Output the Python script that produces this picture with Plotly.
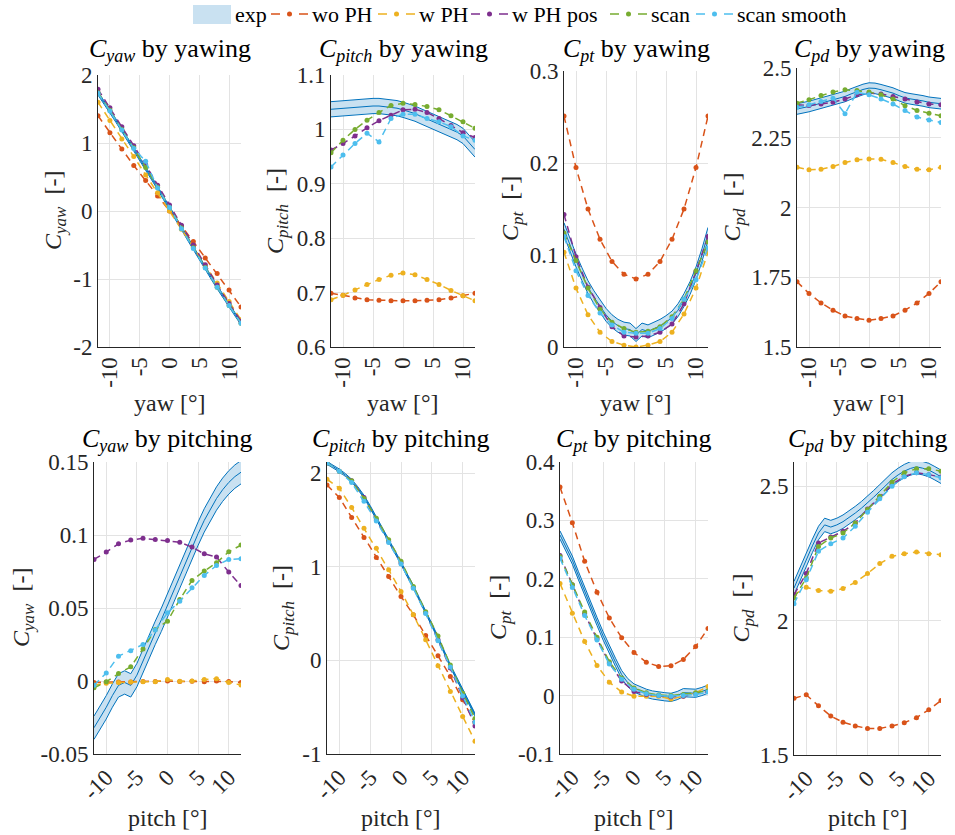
import plotly.graph_objects as go

# ---------------- data ----------------
x_model = [-12, -10, -8, -6, -4, -2, 0, 2, 4, 6, 8, 10, 12]
x_exp = [-12, -11, -10, -9, -8, -7, -6, -5, -4, -3, -2, -1, 0, 1, 2, 3, 4, 5, 6, 7, 8, 9, 10, 11, 12]

series_names = ["wo PH", "w PH", "w PH pos", "scan", "scan smooth"]
series_colors = ["#D95319", "#EDB120", "#7E2F8E", "#77AC30", "#4DBEEE"]

# Panel 1: C_yaw by yawing
cyaw_yaw_exp = [1.73, 1.60, 1.47, 1.33, 1.19, 1.05, 0.92, 0.78, 0.64, 0.49, 0.34, 0.19, 0.05,
                -0.10, -0.25, -0.40, -0.55, -0.69, -0.84, -0.98, -1.12, -1.26, -1.39, -1.52, -1.65]
cyaw_yaw_wo_ph = [1.40, 1.15, 0.91, 0.67, 0.45, 0.22, 0.0, -0.22, -0.45, -0.69, -0.92, -1.16, -1.41]
cyaw_yaw_w_ph = [1.60, 1.33, 1.06, 0.80, 0.53, 0.27, 0.0, -0.27, -0.53, -0.80, -1.06, -1.33, -1.60]
cyaw_yaw_w_ph_pos = [1.79, 1.52, 1.24, 0.96, 0.68, 0.38, 0.09, -0.21, -0.50, -0.79, -1.09, -1.36, -1.62]
cyaw_yaw_scan = [1.74, 1.48, 1.20, 0.93, 0.64, 0.35, 0.05, -0.25, -0.54, -0.83, -1.12, -1.39, -1.65]
cyaw_yaw_scan_smooth = [1.73, 1.47, 1.19, 0.92, 0.73, 0.34, 0.05, -0.26, -0.55, -0.84, -1.12, -1.39, -1.65]

# Panel 2: C_pitch by yawing
cpitch_yaw_exp = [1.037, 1.038, 1.039, 1.040, 1.041, 1.042, 1.043, 1.043, 1.043, 1.042, 1.041, 1.039, 1.036,
                  1.033, 1.029, 1.024, 1.019, 1.014, 1.009, 1.004, 1.000, 0.995, 0.988, 0.976, 0.963]
cpitch_yaw_wo_ph = [0.699, 0.695, 0.690, 0.687, 0.686, 0.685, 0.685, 0.685, 0.686, 0.687, 0.690, 0.694, 0.699]
cpitch_yaw_w_ph = [0.687, 0.695, 0.705, 0.715, 0.724, 0.732, 0.736, 0.733, 0.724, 0.715, 0.704, 0.694, 0.685]
cpitch_yaw_w_ph_pos = [0.962, 0.974, 0.988, 1.003, 1.016, 1.026, 1.036, 1.037, 1.031, 1.020, 1.007, 0.994, 0.985]
cpitch_yaw_scan = [0.957, 0.980, 1.000, 1.017, 1.031, 1.044, 1.048, 1.046, 1.042, 1.036, 1.025, 1.014, 1.002]
cpitch_yaw_scan_smooth = [0.931, 0.953, 0.974, 0.993, 0.977, 1.020, 1.028, 1.028, 1.020, 1.014, 1.005, 0.988, 0.980]

# Panel 3: C_pt by yawing
cpt_yaw_exp = [0.128, 0.110, 0.094, 0.079, 0.065, 0.054, 0.044, 0.035, 0.028, 0.023, 0.020, 0.019, 0.013,
               0.019, 0.017, 0.020, 0.023, 0.027, 0.032, 0.040, 0.051, 0.064, 0.080, 0.100, 0.123]
cpt_yaw_wo_ph = [0.251, 0.195, 0.150, 0.117, 0.093, 0.079, 0.074, 0.079, 0.093, 0.117, 0.150, 0.195, 0.251]
cpt_yaw_w_ph = [0.103, 0.064, 0.035, 0.016, 0.006, 0.002, 0.000, 0.002, 0.006, 0.016, 0.036, 0.064, 0.103]
cpt_yaw_w_ph_pos = [0.144, 0.098, 0.065, 0.043, 0.022, 0.012, 0.011, 0.012, 0.016, 0.025, 0.047, 0.082, 0.120]
cpt_yaw_scan = [0.124, 0.094, 0.064, 0.041, 0.027, 0.020, 0.016, 0.017, 0.022, 0.033, 0.052, 0.083, 0.114]
cpt_yaw_scan_smooth = [0.120, 0.083, 0.056, 0.037, 0.024, 0.016, 0.015, 0.015, 0.020, 0.031, 0.052, 0.073, 0.108]

# Panel 4: C_pd by yawing
cpd_yaw_exp = [2.353, 2.357, 2.362, 2.368, 2.374, 2.380, 2.386, 2.392, 2.398, 2.407, 2.416, 2.423, 2.428,
               2.427, 2.422, 2.416, 2.410, 2.401, 2.393, 2.389, 2.386, 2.382, 2.377, 2.375, 2.372]
cpd_yaw_wo_ph = [1.734, 1.692, 1.658, 1.632, 1.611, 1.602, 1.596, 1.602, 1.611, 1.632, 1.658, 1.692, 1.734]
cpd_yaw_w_ph = [2.144, 2.135, 2.137, 2.147, 2.161, 2.171, 2.174, 2.173, 2.161, 2.147, 2.137, 2.135, 2.144]
cpd_yaw_w_ph_pos = [2.368, 2.366, 2.371, 2.377, 2.389, 2.404, 2.410, 2.407, 2.398, 2.389, 2.378, 2.371, 2.368]
cpd_yaw_scan = [2.374, 2.386, 2.401, 2.414, 2.422, 2.419, 2.414, 2.404, 2.389, 2.365, 2.348, 2.338, 2.329]
cpd_yaw_scan_smooth = [2.359, 2.368, 2.380, 2.392, 2.336, 2.413, 2.404, 2.389, 2.371, 2.348, 2.324, 2.314, 2.305]

# Panel 5: C_yaw by pitching
cyaw_pitch_exp = [-0.032, -0.025, -0.018, -0.010, -0.003, -0.001, -0.003, 0.004, 0.014, 0.023, 0.033, 0.042, 0.052,
                  0.062, 0.072, 0.082, 0.092, 0.101, 0.110, 0.118, 0.125, 0.131, 0.136, 0.140, 0.143]
cyaw_pitch_wo_ph = [-0.0010, -0.0008, -0.0006, -0.0006, -0.0004, -0.0003, 0.0, -0.0003, -0.0002, -0.0005, 0.0, -0.0004, -0.0010]
cyaw_pitch_w_ph = [-0.0027, -0.0016, -0.0011, -0.0007, -0.0005, -0.0005, 0.0010, -0.0002, 0.0, 0.0011, 0.0016, -0.0011, -0.0027]
cyaw_pitch_w_ph_pos = [0.0833, 0.0883, 0.0940, 0.0965, 0.0977, 0.0970, 0.0963, 0.0951, 0.0917, 0.0871, 0.0849, 0.0746, 0.0654]
cyaw_pitch_scan = [-0.0047, -0.0005, 0.0051, 0.0097, 0.0220, 0.0353, 0.0410, 0.0558, 0.0689, 0.0753, 0.0810, 0.0885, 0.0931]
cyaw_pitch_scan_smooth = [-0.0029, 0.0055, 0.0170, 0.0208, 0.0250, 0.0350, 0.0467, 0.0547, 0.0638, 0.0723, 0.0791, 0.0833, 0.0837]

# Panel 6: C_pitch by pitching
cpitch_pitch_exp = [2.11, 2.07, 2.03, 1.98, 1.92, 1.84, 1.75, 1.64, 1.52, 1.40, 1.29, 1.16, 1.04,
                    0.91, 0.79, 0.65, 0.52, 0.38, 0.24, 0.09, -0.06, -0.19, -0.32, -0.45, -0.58]
cpitch_pitch_wo_ph = [1.875, 1.740, 1.527, 1.313, 1.100, 0.897, 0.683, 0.488, 0.267, 0.050, -0.171, -0.420, -0.669]
cpitch_pitch_w_ph = [1.936, 1.840, 1.633, 1.413, 1.199, 0.968, 0.737, 0.488, 0.221, -0.057, -0.331, -0.598, -0.865]
cpitch_pitch_w_ph_pos = [2.11, 2.02, 1.92, 1.74, 1.50, 1.27, 1.04, 0.78, 0.51, 0.22, -0.08, -0.40, -0.70]
cpitch_pitch_scan = [2.11, 2.02, 1.92, 1.73, 1.52, 1.29, 1.06, 0.79, 0.52, 0.26, -0.05, -0.35, -0.62]
cpitch_pitch_scan_smooth = [2.11, 2.02, 1.90, 1.70, 1.49, 1.26, 1.03, 0.77, 0.50, 0.21, -0.07, -0.38, -0.66]

# Panel 7: C_pt by pitching
cpt_pitch_exp = [0.275, 0.254, 0.232, 0.205, 0.178, 0.152, 0.127, 0.102, 0.078, 0.057, 0.036, 0.022, 0.013,
                 0.008, 0.004, 0.001, -0.001, -0.002, -0.003, 0.000, 0.005, 0.005, 0.004, 0.007, 0.011]
cpt_pitch_wo_ph = [0.357, 0.296, 0.230, 0.177, 0.133, 0.099, 0.074, 0.057, 0.050, 0.051, 0.062, 0.084, 0.115]
cpt_pitch_w_ph = [0.192, 0.141, 0.0925, 0.0515, 0.023, 0.006, -0.001, -0.001, -0.001, -0.006, -0.001, 0.0045, 0.0156]
cpt_pitch_w_ph_pos = [0.240, 0.190, 0.140, 0.097, 0.056, 0.025, 0.007, 0.002, 0.000, -0.002, -0.001, 0.003, 0.007]
cpt_pitch_scan = [0.238, 0.190, 0.143, 0.100, 0.058, 0.030, 0.013, 0.005, 0.001, 0.000, 0.002, 0.005, 0.008]
cpt_pitch_scan_smooth = [0.235, 0.185, 0.137, 0.095, 0.054, 0.028, 0.011, 0.003, 0.000, -0.001, 0.000, 0.002, 0.006]

# Panel 8: C_pd by pitching
cpd_pitch_exp = [2.121, 2.175, 2.227, 2.278, 2.326, 2.356, 2.348, 2.356, 2.368, 2.383, 2.400, 2.418, 2.437,
                 2.459, 2.481, 2.503, 2.525, 2.542, 2.556, 2.566, 2.572, 2.567, 2.560, 2.548, 2.535]
cpd_pitch_wo_ph = [1.711, 1.724, 1.683, 1.645, 1.622, 1.608, 1.599, 1.599, 1.608, 1.620, 1.639, 1.668, 1.703]
cpd_pitch_w_ph = [2.096, 2.124, 2.112, 2.109, 2.119, 2.142, 2.175, 2.212, 2.239, 2.249, 2.255, 2.249, 2.245]
cpd_pitch_w_ph_pos = [2.096, 2.175, 2.289, 2.311, 2.332, 2.363, 2.415, 2.460, 2.506, 2.537, 2.550, 2.543, 2.534]
cpd_pitch_scan = [2.084, 2.158, 2.276, 2.307, 2.326, 2.363, 2.413, 2.463, 2.515, 2.550, 2.565, 2.565, 2.556]
cpd_pitch_scan_smooth = [2.063, 2.152, 2.258, 2.286, 2.307, 2.351, 2.403, 2.453, 2.500, 2.535, 2.550, 2.543, 2.531]

# experimental band half-widths per panel
exp_halfwidth = [0.025, 0.014, 0.007, 0.019, 0.008, 0.015, 0.007, 0.025]


def sym(name, sub_size):
    return ('<i>C</i><sub><span style="font-size:%dpx"><i>%s</i></span></sub>' % (sub_size, name))


quantities = ["yaw", "pitch", "pt", "pd"]
panel_titles = [sym(q, 18) + " by yawing" for q in quantities] + [sym(q, 18) + " by pitching" for q in quantities]
y_labels = [sym(q, 17) + "  [-]" for q in quantities] * 2
x_labels = ["yaw [°]"] * 4 + ["pitch [°]"] * 4

x_ticks = [-10, -5, 0, 5, 10]
y_ticks = [[-2, -1, 0, 1, 2], [0.6, 0.7, 0.8, 0.9, 1.0, 1.1], [0, 0.1, 0.2, 0.3], [1.5, 1.75, 2, 2.25, 2.5],
           [-0.05, 0, 0.05, 0.1, 0.15], [-1, 0, 1, 2], [-0.1, 0, 0.1, 0.2, 0.3, 0.4], [1.5, 2, 2.5]]
y_ticktext = [["-2", "-1", "0", "1", "2"], ["0.6", "0.7", "0.8", "0.9", "1", "1.1"], ["0", "0.1", "0.2", "0.3"],
              ["1.5", "1.75", "2", "2.25", "2.5"], ["-0.05", "0", "0.05", "0.1", "0.15"], ["-1", "0", "1", "2"],
              ["-0.1", "0", "0.1", "0.2", "0.3", "0.4"], ["1.5", "2", "2.5"]]
y_ranges = [[-2, 2], [0.6, 1.1], [0, 0.3], [1.5, 2.5], [-0.05, 0.15], [-1, 2.12], [-0.1, 0.4], [1.5, 2.59]]

panels = [
    (cyaw_yaw_exp, [cyaw_yaw_wo_ph, cyaw_yaw_w_ph, cyaw_yaw_w_ph_pos, cyaw_yaw_scan, cyaw_yaw_scan_smooth]),
    (cpitch_yaw_exp, [cpitch_yaw_wo_ph, cpitch_yaw_w_ph, cpitch_yaw_w_ph_pos, cpitch_yaw_scan, cpitch_yaw_scan_smooth]),
    (cpt_yaw_exp, [cpt_yaw_wo_ph, cpt_yaw_w_ph, cpt_yaw_w_ph_pos, cpt_yaw_scan, cpt_yaw_scan_smooth]),
    (cpd_yaw_exp, [cpd_yaw_wo_ph, cpd_yaw_w_ph, cpd_yaw_w_ph_pos, cpd_yaw_scan, cpd_yaw_scan_smooth]),
    (cyaw_pitch_exp, [cyaw_pitch_wo_ph, cyaw_pitch_w_ph, cyaw_pitch_w_ph_pos, cyaw_pitch_scan, cyaw_pitch_scan_smooth]),
    (cpitch_pitch_exp, [cpitch_pitch_wo_ph, cpitch_pitch_w_ph, cpitch_pitch_w_ph_pos, cpitch_pitch_scan, cpitch_pitch_scan_smooth]),
    (cpt_pitch_exp, [cpt_pitch_wo_ph, cpt_pitch_w_ph, cpt_pitch_w_ph_pos, cpt_pitch_scan, cpt_pitch_scan_smooth]),
    (cpd_pitch_exp, [cpd_pitch_wo_ph, cpd_pitch_w_ph, cpd_pitch_w_ph_pos, cpd_pitch_scan, cpd_pitch_scan_smooth]),
]

# ---------------- layout geometry (pixels) ----------------
W, H = 955, 835
boxes = [(98, 241, 75, 347), (331, 475, 75, 347), (564, 708, 71, 347), (797, 941, 68, 347),
         (94, 241, 462, 754), (327, 475, 462, 754), (560, 708, 462, 754), (794, 941, 462, 755)]
ytitle_px = [55, 277, 512, 733, 23, 283, 500, 742]
title_y_px = [50, 440]
xlabel_y_px = [403, 818]

FONT = "Liberation Serif, Times New Roman, serif"
TXT = "#262626"
EXP_COLOR = "#0072BD"
BAND_FILL = "#c9e1f1"
DASH = "7px,5px"


def px(xp):
    return xp / W


def py(yp):
    return 1 - yp / H


fig = go.Figure()
annotations = []
shapes = []

for i, (exp_mean, models) in enumerate(panels):
    k = i + 1
    xa = "x" if k == 1 else f"x{k}"
    ya = "y" if k == 1 else f"y{k}"
    hw = exp_halfwidth[i]
    upper = [v + hw for v in exp_mean]
    lower = [v - hw for v in exp_mean]
    fig.add_trace(go.Scatter(
        x=x_exp + x_exp[::-1], y=upper + lower[::-1], fill="toself", fillcolor=BAND_FILL,
        line=dict(width=0), mode="lines", name="exp", showlegend=False,
        hoverinfo="skip", xaxis=xa, yaxis=ya))
    for yy in (upper, lower, exp_mean):
        fig.add_trace(go.Scatter(x=x_exp, y=yy, mode="lines", line=dict(color=EXP_COLOR, width=1),
                                 showlegend=False, xaxis=xa, yaxis=ya))
    for j, ys in enumerate(models):
        fig.add_trace(go.Scatter(
            x=x_model, y=ys, mode="lines+markers", name=series_names[j], showlegend=False,
            line=dict(color=series_colors[j], width=1.5, dash=DASH),
            marker=dict(color=series_colors[j], size=5, symbol="circle"),
            xaxis=xa, yaxis=ya))

    x0, x1, y0, y1 = boxes[i]
    row2 = i >= 4
    axis_common = dict(showgrid=True, gridcolor="#e3e3e3", gridwidth=1, zeroline=False,
                       showline=True, linecolor=TXT, linewidth=1, ticks="", automargin=False,
                       tickfont=dict(family=FONT, size=23, color=TXT))
    fig.update_layout(**{
        ("xaxis" if k == 1 else f"xaxis{k}"): dict(
            domain=[px(x0), px(x1)], anchor=ya, range=[-12, 12], tickvals=x_ticks,
            ticktext=[str(t) for t in x_ticks], tickangle=(-45 if row2 else -90), **axis_common),
        ("yaxis" if k == 1 else f"yaxis{k}"): dict(
            domain=[py(y1), py(y0)], anchor=xa, range=y_ranges[i], tickvals=y_ticks[i],
            ticktext=y_ticktext[i], **axis_common),
    })
    cx = px((x0 + x1) / 2)
    r = 1 if row2 else 0
    annotations.append(dict(text=panel_titles[i], x=cx, xref="paper", y=py(title_y_px[r]), yref="paper",
                            xanchor="center", yanchor="middle", showarrow=False,
                            font=dict(family=FONT, size=26, color="black")))
    annotations.append(dict(text=x_labels[i], x=cx, xref="paper", y=py(xlabel_y_px[r]), yref="paper",
                            xanchor="center", yanchor="middle", showarrow=False,
                            font=dict(family=FONT, size=24, color=TXT)))
    annotations.append(dict(text=y_labels[i], x=px(ytitle_px[i]), xref="paper",
                            y=py((y0 + y1) / 2), yref="paper", textangle=-90,
                            xanchor="center", yanchor="middle", showarrow=False,
                            font=dict(family=FONT, size=24, color=TXT)))

# ---------------- legend (drawn manually, MATLAB style) ----------------
leg_y = 14
shapes.append(dict(type="rect", xref="paper", yref="paper", x0=px(193), x1=px(231), y0=py(24), y1=py(5),
                   fillcolor=BAND_FILL, line=dict(width=0), layer="above"))
annotations.append(dict(text="exp", x=px(233), y=py(leg_y), xref="paper", yref="paper", xanchor="left",
                        yanchor="middle", showarrow=False, font=dict(family=FONT, size=22, color="black")))
swatch_end = [308, 415, 508, 647, 733]
for j, name in enumerate(series_names):
    e = swatch_end[j]
    s = e - 37
    shapes.append(dict(type="line", xref="paper", yref="paper", x0=px(s), x1=px(e), y0=py(leg_y), y1=py(leg_y),
                       line=dict(color=series_colors[j], width=1.5, dash="9px,19px"), layer="above"))
    cxp = (s + e) / 2
    shapes.append(dict(type="circle", xref="paper", yref="paper", x0=px(cxp - 2.5), x1=px(cxp + 2.5),
                       y0=py(leg_y + 2.5), y1=py(leg_y - 2.5), fillcolor=series_colors[j],
                       line=dict(width=0), layer="above"))
    annotations.append(dict(text=name, x=px(e + 2), y=py(leg_y), xref="paper", yref="paper", xanchor="left",
                            yanchor="middle", showarrow=False, font=dict(family=FONT, size=22, color="black")))

fig.update_layout(
    width=W, height=H, margin=dict(l=0, r=0, t=0, b=0, autoexpand=False),
    paper_bgcolor="white", plot_bgcolor="white",
    font=dict(family=FONT, size=23, color="black"),
    annotations=annotations, shapes=shapes,
    showlegend=False,
)

fig.write_html("out.html", config={"displayModeBar": False},
               post_script="document.body.style.margin='0px';document.body.style.overflow='hidden';")
